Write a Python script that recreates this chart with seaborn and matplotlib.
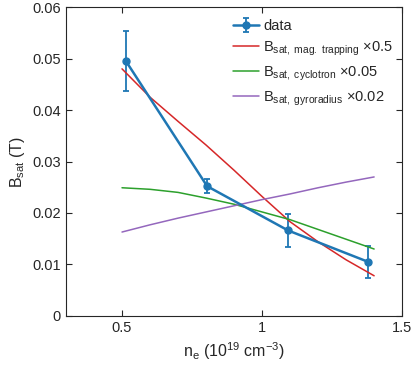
import numpy as np
import pandas as pd
import seaborn as sns
import matplotlib.pyplot as plt

# measured saturation field
ne_data = [0.514, 0.804, 1.093, 1.379]
b_data = [0.0495, 0.0252, 0.0166, 0.0105]
b_err_lo = [0.0058, 0.0013, 0.0033, 0.0031]
b_err_hi = [0.0058, 0.0014, 0.0032, 0.0031]

# scaled model curves
ne_model = [0.5, 0.6, 0.7, 0.8, 0.9, 1.0, 1.1, 1.2, 1.3, 1.4]
b_trap = [0.048, 0.0425, 0.0378, 0.0332, 0.0283, 0.0232, 0.0183, 0.0144, 0.0109, 0.0078]
b_cyc = [0.0249, 0.0246, 0.0240, 0.0229, 0.0217, 0.0202, 0.0187, 0.0168, 0.0149, 0.0130]
b_gyro = [0.0163, 0.0177, 0.0190, 0.0202, 0.0214, 0.0226, 0.0237, 0.0249, 0.0260, 0.0270]

labels = [r"B$_{\mathrm{sat,\ mag.\ trapping}}$ $\times$0.5",
          r"B$_{\mathrm{sat,\ cyclotron}}$ $\times$0.05",
          r"B$_{\mathrm{sat,\ gyroradius}}$ $\times$0.02"]

sns.set_style("ticks")
plt.rcParams["font.family"] = ["Liberation Sans", "DejaVu Sans"]
plt.rcParams["mathtext.fontset"] = "custom"
plt.rcParams["mathtext.rm"] = "Liberation Sans"
plt.rcParams["mathtext.it"] = "Liberation Sans"

fig = plt.figure(figsize=(4.15, 3.73), dpi=100)
ax = fig.add_axes([0.159, 0.153, 0.81, 0.828])

pal = sns.color_palette("tab10")
model = pd.DataFrame({
    "ne": ne_model * 3,
    "B": b_trap + b_cyc + b_gyro,
    "curve": [labels[0]] * 10 + [labels[1]] * 10 + [labels[2]] * 10,
})

ax.errorbar(ne_data, b_data, yerr=[b_err_lo, b_err_hi], color=pal[0], lw=1.8,
            marker="o", ms=5, capsize=2.5, elinewidth=1.3, capthick=1.3, label="data")
sns.lineplot(data=model, x="ne", y="B", hue="curve", ax=ax,
             palette=[pal[3], pal[2], pal[4]], lw=1.1)

ax.set_xlim(0.3, 1.5)
ax.set_ylim(0, 0.06)
ax.set_xticks([0.5, 1, 1.5])
ax.set_xticklabels(["0.5", "1", "1.5"])
ax.set_yticks(np.arange(0, 0.061, 0.01))
ax.set_yticklabels(["0", "0.01", "0.02", "0.03", "0.04", "0.05", "0.06"])
ax.tick_params(direction="in", top=True, right=True, labelsize=10.5, length=4,
               color="#262626", labelcolor="#262626")
for s in ax.spines.values():
    s.set_color("#262626")
    s.set_linewidth(0.8)

ax.set_xlabel(r"n$_{\mathrm{e}}$ (10$^{19}$ cm$^{\mathrm{-3}}$)", fontsize=11.5, color="#262626")
ax.set_ylabel(r"B$_{\mathrm{sat}}$ (T)", fontsize=11.5, color="#262626")

handles, labs = ax.get_legend_handles_labels()
order = [labs.index("data")] + [labs.index(l) for l in labels]
ax.legend([handles[i] for i in order], [labs[i] for i in order],
          loc="upper left", bbox_to_anchor=(0.47, 0.99), frameon=False,
          fontsize=10.5, handlelength=1.8, handletextpad=0.3, labelspacing=0.45,
          borderaxespad=0.2)

fig.savefig("out.png", dpi=100)
